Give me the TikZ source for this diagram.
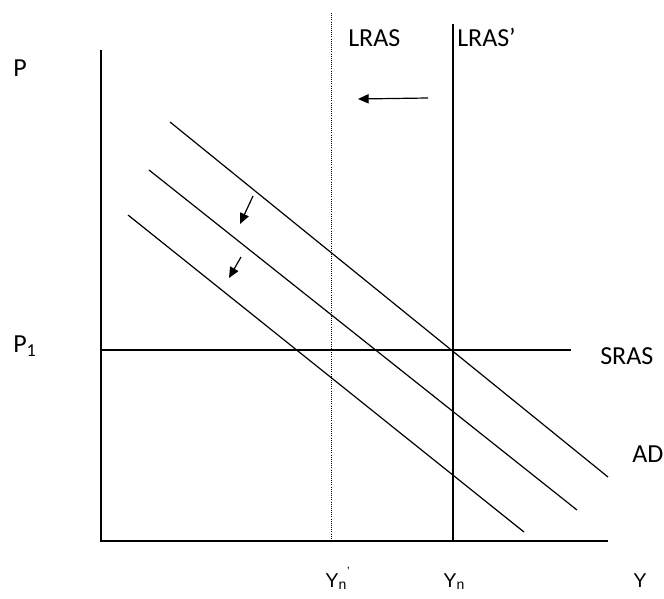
\documentclass[tikz,border=0pt]{standalone}
\usepackage{fontspec}
\setmainfont{Carlito}
\newfontfamily\arialf{Liberation Sans}
\usetikzlibrary{arrows.meta}
\begin{document}
\begin{tikzpicture}[x=0.75pt,y=-0.75pt,
  curve/.style={line width=0.9pt},
  axis/.style={line width=1.1pt},
  lab/.style={anchor=base west,inner sep=0pt,font=\fontsize{19.5}{22}\selectfont},
  ylab/.style={anchor=base west,inner sep=0pt,font=\arialf\fontsize{15}{18}\selectfont},
  shift arrow/.style={line width=0.9pt,-{Triangle[length=8pt,width=7pt]}}]
\useasboundingbox (0,0) rectangle (664,599);
% axes
\coordinate (O) at (101,541);
\coordinate (ytop) at (101,50);
\coordinate (xend) at (608,541);
\draw[axis] (ytop) -- (O) -- (xend);
% LRAS (dotted) and LRAS' (solid)
\coordinate (l1t) at (331,13);
\coordinate (l1b) at (331,541);
\draw[densely dotted,line width=0.6pt] (l1t) -- (l1b);
\coordinate (l2t) at (453,24);
\coordinate (l2b) at (453,541);
\draw[curve] (l2t) -- (l2b);
% SRAS
\coordinate (s1) at (101,350);
\coordinate (s2) at (571,350);
\draw[curve] (s1) -- (s2);
% AD curves
\coordinate (a1) at (170,122); \coordinate (a2) at (608,477);
\coordinate (b1) at (149,170); \coordinate (b2) at (577,510);
\coordinate (c1) at (128,215); \coordinate (c2) at (524,532);
\draw[curve] (a1) -- (a2);
\draw[curve] (b1) -- (b2);
\draw[curve] (c1) -- (c2);
% shift arrows
\coordinate (h1) at (428,98); \coordinate (h2) at (358,99);
\draw[shift arrow] (h1) -- (h2);
\coordinate (d1) at (253,196); \coordinate (d2) at (240,224);
\draw[shift arrow] (d1) -- (d2);
\coordinate (e1) at (241,257); \coordinate (e2) at (229,278);
\draw[shift arrow] (e1) -- (e2);
% labels
\node[lab] (P) at (13,77) {P};
\node[lab] (P1) at (13,352) {P\textsubscript{1}};
\node[lab] (LRAS) at (348,47) {LRAS};
\node[lab] (LRASp) at (457,47) {LRAS’};
\node[lab] (SRAS) at (600,364) {SRAS};
\node[lab] (AD) at (632,462) {AD};
\node[ylab] (Ynp) at (325,587) {Y\textsubscript{n}\raisebox{1.1ex}{\fontsize{9}{9}\selectfont ’}};
\node[ylab] (Yn) at (443,587) {Y\textsubscript{n}};
\node[ylab] (Y) at (633,587) {Y};
\end{tikzpicture}
\end{document}
